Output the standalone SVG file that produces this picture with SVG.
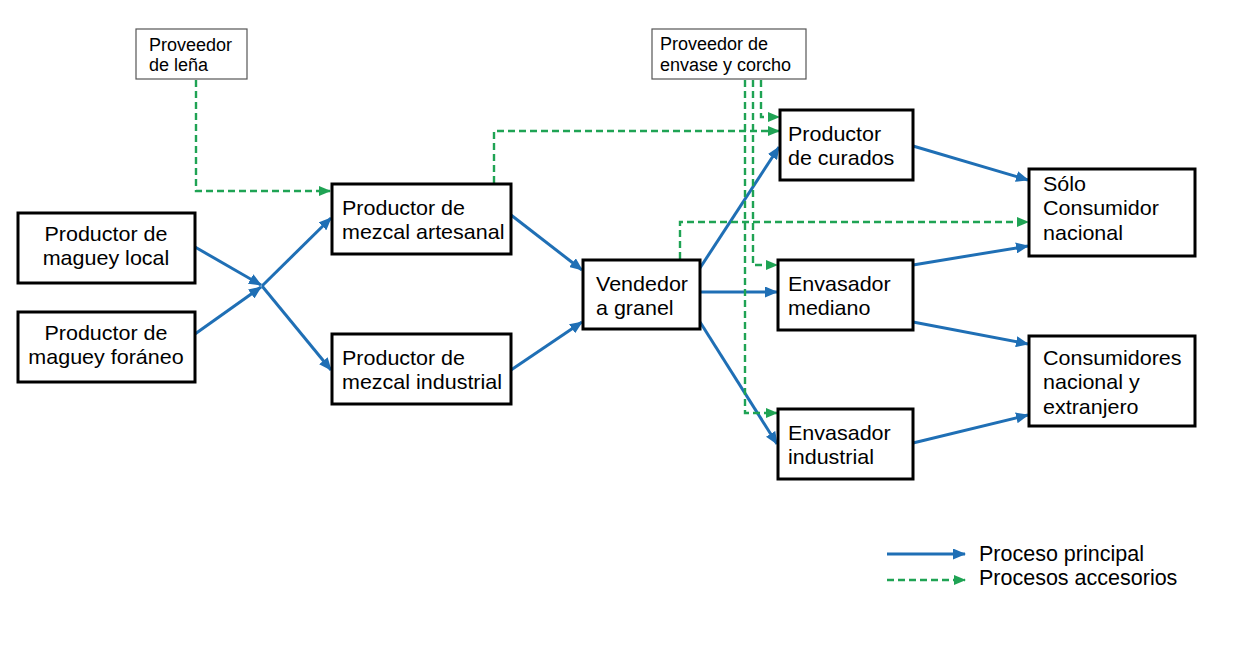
<svg xmlns="http://www.w3.org/2000/svg" width="1233" height="668" viewBox="0 0 1233 668">
<defs>
<style>
.box{fill:#fff;stroke:#000;stroke-width:3}
.sbox{fill:#fff;stroke:#555;stroke-width:1.2}
.t{font-family:"Liberation Sans",Arial,sans-serif;font-size:20px;fill:#000}
.st{font-family:"Liberation Sans",Arial,sans-serif;font-size:18px;fill:#000}
.lt{font-family:"Liberation Sans",Arial,sans-serif;font-size:21.5px;fill:#000}
.b{fill:none;stroke:#1f6fb5;stroke-width:3;marker-end:url(#ab)}
.g{fill:none;stroke:#1fa354;stroke-width:2.4;stroke-dasharray:7,4;marker-end:url(#ag)}
</style>
<marker id="ab" markerUnits="userSpaceOnUse" markerWidth="13" markerHeight="11" refX="12" refY="5.5" orient="auto"><path d="M0,0 L13,5.5 L0,11 z" fill="#1f6fb5"/></marker>
<marker id="ag" markerUnits="userSpaceOnUse" markerWidth="12" markerHeight="10" refX="11" refY="5" orient="auto"><path d="M0,0 L12,5 L0,10 z" fill="#1fa354"/></marker>
</defs>
<rect width="1233" height="668" fill="#fff"/>

<g id="connectors">
<path class="b" d="M195,247 L261,285"/>
<path class="b" d="M195,334 L261,287"/>
<path class="b" d="M262,286 L331,218"/>
<path class="b" d="M262,286 L331,370"/>
<path class="b" d="M511,215 L582,270"/>
<path class="b" d="M511,370 L582,322"/>
<path class="b" d="M700,268 L779,147"/>
<path class="b" d="M700,292 L777,292"/>
<path class="b" d="M700,322 L777,444"/>
<path class="b" d="M913,146 L1028,180"/>
<path class="b" d="M913,265 L1028,246"/>
<path class="b" d="M913,322 L1028,344"/>
<path class="b" d="M913,443 L1028,415"/>
<path class="g" d="M196,80 L196,191 L330,191"/>
<path class="g" d="M494,183 L494,131 L779,131"/>
<path class="g" d="M761,80 L761,117 L779,117"/>
<path class="g" d="M753,80 L753,265 L777,265"/>
<path class="g" d="M745,80 L745,413 L777,413"/>
<path class="g" d="M680,259 L680,222 L1028,222"/>
</g>

<g id="maguey-local"><rect class="box" x="18" y="213" width="177" height="70"/>
<text class="t" text-anchor="middle" transform="translate(106,241) scale(1.075,1)"><tspan x="0" y="0">Productor de</tspan><tspan x="0" y="24.5">maguey local</tspan></text></g>

<g id="maguey-foraneo"><rect class="box" x="18" y="312" width="177" height="70"/>
<text class="t" text-anchor="middle" transform="translate(106,340) scale(1.075,1)"><tspan x="0" y="0">Productor de</tspan><tspan x="0" y="24.5">maguey foráneo</tspan></text></g>

<g id="mezcal-artesanal"><rect class="box" x="332" y="184" width="179" height="70"/>
<text class="t" transform="translate(342,215) scale(1.075,1)"><tspan x="0" y="0">Productor de</tspan><tspan x="0" y="24.5">mezcal artesanal</tspan></text></g>

<g id="mezcal-industrial"><rect class="box" x="332" y="334" width="179" height="70"/>
<text class="t" transform="translate(342,365) scale(1.075,1)"><tspan x="0" y="0">Productor de</tspan><tspan x="0" y="24.5">mezcal industrial</tspan></text></g>

<g id="vendedor"><rect class="box" x="583" y="260" width="117" height="69"/>
<text class="t" transform="translate(596,291) scale(1.075,1)"><tspan x="0" y="0">Vendedor</tspan><tspan x="0" y="24.5">a granel</tspan></text></g>

<g id="curados"><rect class="box" x="780" y="110" width="133" height="70"/>
<text class="t" transform="translate(788,141) scale(1.075,1)"><tspan x="0" y="0">Productor</tspan><tspan x="0" y="24.5">de curados</tspan></text></g>

<g id="envasador-mediano"><rect class="box" x="778" y="260" width="135" height="70"/>
<text class="t" transform="translate(788,291) scale(1.075,1)"><tspan x="0" y="0">Envasador</tspan><tspan x="0" y="24.5">mediano</tspan></text></g>

<g id="envasador-industrial"><rect class="box" x="778" y="409" width="135" height="70"/>
<text class="t" transform="translate(788,440) scale(1.075,1)"><tspan x="0" y="0">Envasador</tspan><tspan x="0" y="24.5">industrial</tspan></text></g>

<g id="solo-consumidor"><rect class="box" x="1029" y="169" width="166" height="87"/>
<text class="t" transform="translate(1043,191) scale(1.075,1)"><tspan x="0" y="0">Sólo</tspan><tspan x="0" y="24.5">Consumidor</tspan><tspan x="0" y="49">nacional</tspan></text></g>

<g id="consumidores"><rect class="box" x="1029" y="336" width="166" height="90"/>
<text class="t" transform="translate(1043,365) scale(1.075,1)"><tspan x="0" y="0">Consumidores</tspan><tspan x="0" y="24.5">nacional y</tspan><tspan x="0" y="49">extranjero</tspan></text></g>

<g id="proveedor-lena"><rect class="sbox" x="136" y="29" width="111" height="50"/>
<text class="st"><tspan x="149" y="51">Proveedor</tspan><tspan x="149" y="71">de leña</tspan></text></g>

<g id="proveedor-envase"><rect class="sbox" x="652" y="29" width="154" height="50"/>
<text class="st"><tspan x="660" y="50">Proveedor de</tspan><tspan x="660" y="71">envase y corcho</tspan></text></g>

<g id="legend">
<path class="b" d="M887,554 L965,554"/>
<path class="g" d="M887,580 L965,580"/>
<text class="lt" x="979" y="561">Proceso principal</text>
<text class="lt" x="979" y="585">Procesos accesorios</text>
</g>
</svg>
